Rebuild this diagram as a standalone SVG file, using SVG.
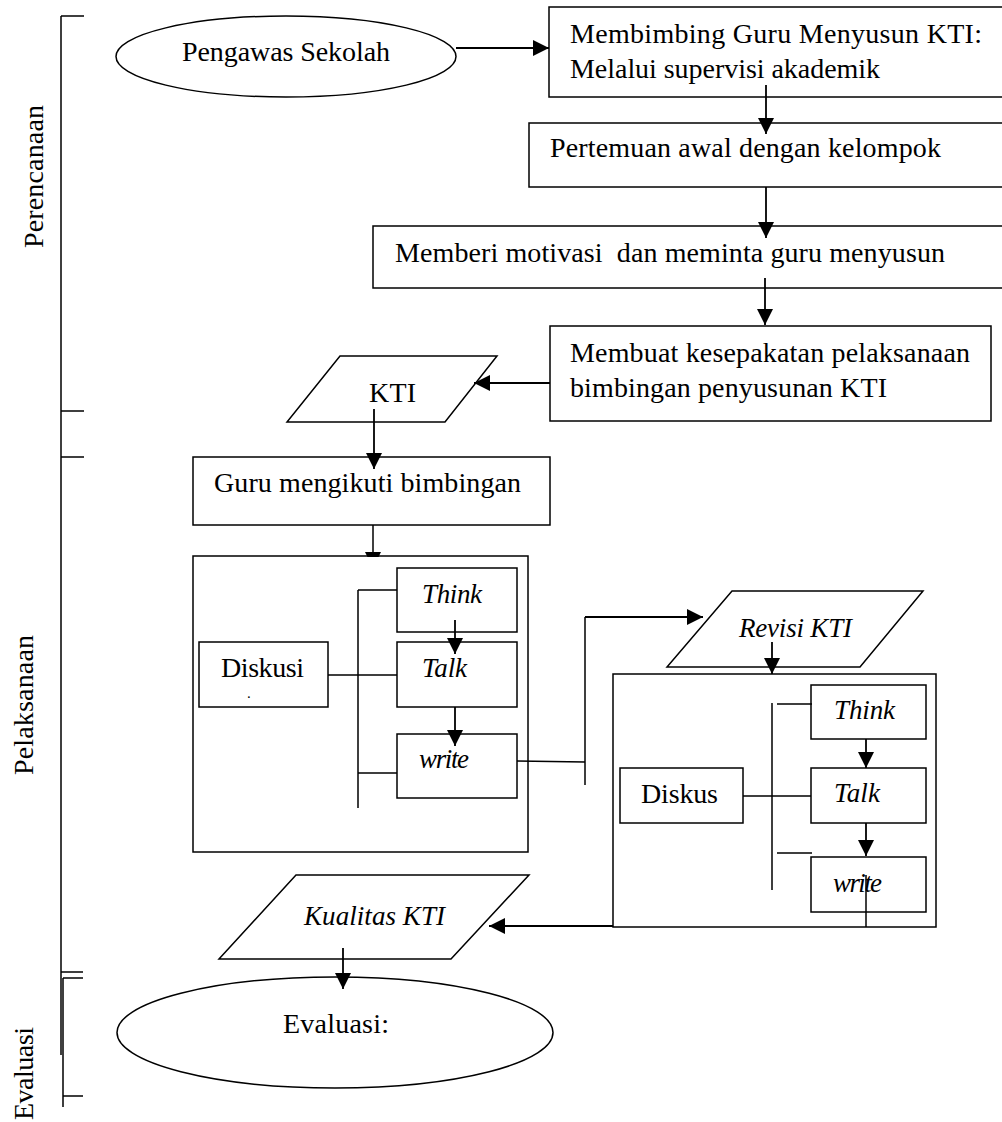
<svg xmlns="http://www.w3.org/2000/svg" width="1002" height="1122" viewBox="0 0 1002 1122">
<defs>
<marker id="ah" markerUnits="userSpaceOnUse" viewBox="0 0 16 16" refX="16" refY="8" markerWidth="16" markerHeight="16" orient="auto">
<path d="M0,0 L16,8 L0,16 z" fill="#000"/>
</marker>
<style>
.s{fill:#fff;stroke:#000;stroke-width:1.5}
.l{fill:none;stroke:#000;stroke-width:1.5}
.a{fill:none;stroke:#000;stroke-width:1.8;marker-end:url(#ah)}
.t{font-family:"Liberation Serif","Times New Roman",serif;font-size:28px;fill:#000}
.i{font-style:italic;font-size:27px}
</style>
</defs>
<rect width="1002" height="1122" fill="#fff"/>

<g id="phases">
<path class="l" d="M61,16 V1055 M61,16 H84 M61,411 H84 M61,457 H84 M61,972 H83 M63,978 V1107 M63,978 H83 M63,1096 H83"/>
<text class="t" transform="translate(43,248) rotate(-90)" textLength="143">Perencanaan</text>
<text class="t" transform="translate(33,775) rotate(-90)" textLength="140">Pelaksanaan</text>
<text class="t" transform="translate(33,1120) rotate(-90)" textLength="93">Evaluasi</text>
</g>

<g id="pengawas">
<ellipse class="s" cx="286" cy="56.5" rx="170" ry="40.5"/>
<text class="t" x="182" y="61" textLength="208">Pengawas Sekolah</text>
</g>
<g id="membimbing">
<rect class="s" x="549" y="7" width="470" height="90"/>
<text class="t" x="570" y="43" textLength="412">Membimbing Guru Menyusun KTI:</text>
<text class="t" x="570" y="78" textLength="310">Melalui supervisi akademik</text>
</g>
<g id="pertemuan">
<rect class="s" x="529" y="123" width="490" height="64"/>
<text class="t" x="550" y="157" textLength="391">Pertemuan awal dengan kelompok</text>
</g>
<g id="memberi">
<rect class="s" x="373" y="226" width="646" height="62"/>
<text class="t" x="395" y="262" textLength="550" xml:space="preserve">Memberi motivasi  dan meminta guru menyusun</text>
</g>
<g id="membuat">
<rect class="s" x="550" y="326" width="441" height="95"/>
<text class="t" x="570" y="362" textLength="400">Membuat kesepakatan pelaksanaan</text>
<text class="t" x="570" y="397" textLength="317">bimbingan penyusunan KTI</text>
</g>
<g id="kti">
<polygon class="s" points="340,356 497,356 445,422 287,422"/>
<text class="t" x="369" y="402" textLength="47">KTI</text>
</g>
<g id="guru">
<rect class="s" x="193" y="457" width="357" height="68"/>
<text class="t" x="214" y="492" textLength="307">Guru mengikuti bimbingan</text>
</g>
<g id="diskusi-group">
<rect class="s" x="193" y="556" width="335" height="296"/>
<rect class="s" x="397" y="568" width="120" height="64"/>
<text class="t i" x="422" y="603" textLength="60">Think</text>
<rect class="s" x="397" y="642" width="120" height="65"/>
<text class="t i" x="422" y="677" textLength="45">Talk</text>
<rect class="s" x="397" y="734" width="120" height="64"/>
<text class="t i" x="419" y="768" textLength="50">write</text>
<rect class="s" x="199" y="642" width="129" height="65"/>
<text class="t" x="221" y="677" textLength="83">Diskusi</text>
<text class="t" x="247" y="698" style="font-size:15px">.</text>
</g>
<g id="revisi">
<polygon class="s" points="732,591 923,591 860,667 667,667"/>
<text class="t i" x="739" y="637" textLength="113">Revisi KTI</text>
</g>
<g id="diskus-group">
<rect class="s" x="613" y="674" width="323" height="253"/>
<rect class="s" x="811" y="685" width="115" height="54"/>
<text class="t i" x="834" y="719" textLength="61">Think</text>
<rect class="s" x="811" y="768" width="115" height="55"/>
<text class="t i" x="834" y="802" textLength="46">Talk</text>
<rect class="s" x="811" y="857" width="115" height="55"/>
<text class="t i" x="833" y="892" textLength="49">write</text>
<rect class="s" x="620" y="768" width="123" height="55"/>
<text class="t" x="641" y="803" textLength="77">Diskus</text>
</g>
<g id="kualitas">
<polygon class="s" points="296,875 529,875 451,959 219,959"/>
<text class="t i" x="304" y="925" textLength="141">Kualitas KTI</text>
</g>
<g id="evaluasi">
<ellipse class="s" cx="335" cy="1032.5" rx="218" ry="55.5"/>
<text class="t" x="283" y="1033" textLength="106">Evaluasi:</text>
</g>

<g id="connectors">
<line class="a" x1="456" y1="48" x2="549" y2="48"/>
<line class="a" x1="766" y1="85" x2="766" y2="134"/>
<line class="a" x1="766" y1="187" x2="766" y2="238"/>
<line class="a" x1="765" y1="278" x2="765" y2="325"/>
<line class="a" x1="550" y1="383" x2="474" y2="383"/>
<line class="a" x1="374" y1="409" x2="374" y2="469"/>
<line class="l" x1="373" y1="525" x2="373" y2="556"/>
<polygon points="365,552 381,552 378.5,557 367.5,557" fill="#000"/>
<line class="a" x1="455" y1="620" x2="455" y2="654"/>
<line class="a" x1="455" y1="707" x2="455" y2="746"/>
<path class="l" d="M358,590 V808 M358,590 H397 M328,675 H397 M358,773 H397"/>
<path class="l" d="M517,761 L585,762 M585,617 V785"/>
<line class="a" x1="585" y1="617" x2="703" y2="617"/>
<line class="a" x1="772" y1="642" x2="772" y2="674"/>
<path class="l" d="M772,703 V890 M777,704 H812 M743,796 H811 M777,853 H812"/>
<line class="a" x1="866" y1="739" x2="866" y2="768"/>
<line class="a" x1="866" y1="823" x2="866" y2="856"/>
<line class="l" x1="866" y1="875" x2="866" y2="927"/>
<line class="a" x1="613" y1="926" x2="489" y2="926"/>
<line class="a" x1="343" y1="948" x2="343" y2="989"/>
</g>
</svg>
